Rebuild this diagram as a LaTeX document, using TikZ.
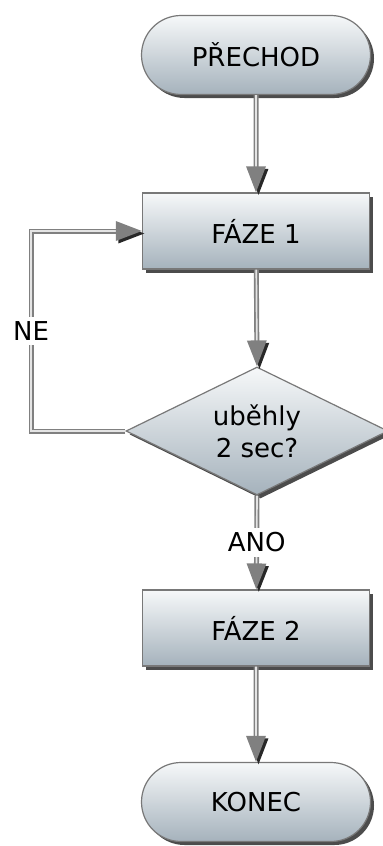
\documentclass[tikz,border=0pt]{standalone}
\usepackage{fontspec}
\setmainfont{DejaVu Sans}
\usetikzlibrary{shapes.geometric,shapes.misc,shadows,arrows.meta}
\definecolor{boxtop}{RGB}{246,248,249}
\definecolor{boxbottom}{RGB}{165,178,188}
\definecolor{edge}{RGB}{120,120,120}
\definecolor{wire}{RGB}{128,128,128}
\definecolor{wirecore}{RGB}{228,228,228}
\definecolor{tipshade}{RGB}{40,40,40}
\begin{document}
\begin{tikzpicture}[x=1bp,y=-1bp,
  font=\fontsize{26bp}{32bp}\selectfont,
  shape base/.style={draw=edge, line width=1.2bp, top color=boxtop, bottom color=boxbottom,
    drop shadow={shadow xshift=3.5bp, shadow yshift=-3.5bp, fill=black, opacity=0.7},
    inner sep=0pt, align=center},
  terminal/.style={shape base, rounded rectangle, minimum width=229bp, minimum height=79bp},
  process/.style={shape base, rectangle, minimum width=227bp, minimum height=76bp},
  decision/.style={shape base, diamond, aspect=2, minimum width=262bp, minimum height=128bp},
  link/.style={
    preaction={draw=tipshade, draw opacity=0, line width=0.1bp,
      arrows={-Triangle[length=26bp,width=20bp,fill=tipshade]},
      transform canvas={shift={(2.5bp,-2.5bp)}}},
    preaction={draw=wire, line width=5bp, arrows=-, shorten >=14bp},
    preaction={draw=wirecore, line width=1.7bp, arrows=-, shorten >=14bp},
    draw=wire, draw opacity=0, line width=0.1bp,
    arrows={-Triangle[length=26bp,width=20bp,fill=wire]}},
  tag/.style={fill=white, inner xsep=2bp, inner ysep=5bp}
]
\useasboundingbox (0,0) rectangle (382,846);

% flowchart blocks
\node[terminal] (start) at (256,55)  {PŘECHOD};
\node[process]  (f1)    at (256,231) {FÁZE 1};
\node[decision] (check) at (257,431) {uběhly\\2 sec?};
\node[process]  (f2)    at (256,628) {FÁZE 2};
\node[terminal] (stop)  at (256,802) {KONEC};

% loop-back column
\coordinate (loopx) at (31,0);

% connectors
\draw[link] (start) -- (f1);
\draw[link] (f1) -- (check.north);
\draw[link] (check.west) -- (check.west -| loopx)
  |- node[tag, pos=0.25] (ne) {NE} (f1.west);
\draw[link] (check.south) -- node[tag] (yes) {ANO} (f2);
\draw[link] (f2) -- (stop);
\end{tikzpicture}
\end{document}
